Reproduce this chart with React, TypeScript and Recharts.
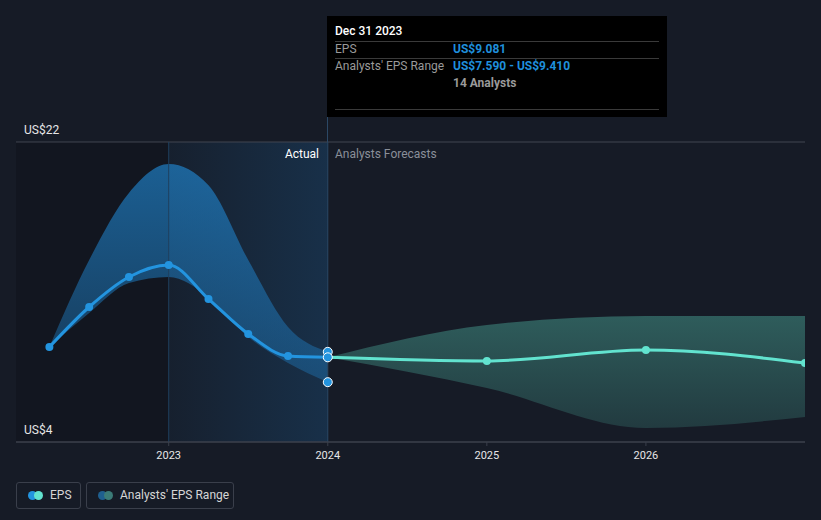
import React from "react";
import {
  ComposedChart,
  Area,
  Line,
  XAxis,
  YAxis,
  CartesianGrid,
  ReferenceArea,
  ReferenceLine,
} from "recharts";

// quarter ends as decimal years (Dec 31 2023 = 2024.0)
const periods = [2022.25, 2022.5, 2022.75, 2023.0, 2023.25, 2023.5, 2023.75, 2024.0, 2025.0, 2026.0, 2027.0];
const epsActual = [9.7, 12.1, 13.9, 14.62, 12.58, 10.48, 9.16, 9.081, null, null, null];
const epsForecast = [null, null, null, null, null, null, null, 9.081, 8.86, 9.52, 8.74];
const pastLow = [9.7, 11.74, 13.54, 13.9, 12.7, 10.3, 8.74, 7.59, null, null, null];
const pastHigh = [9.7, 14.92, 18.94, 20.68, 19.4, 14.92, 10.9, 9.41, null, null, null];
const forecastLow = [null, null, null, null, null, null, null, 9.081, 7.24, 4.84, 5.5];
const forecastHigh = [null, null, null, null, null, null, null, 9.081, 11.02, 11.56, 11.56];
const markHigh = [null, null, null, null, null, null, null, 9.41, null, null, null];
const markMid = [null, null, null, null, null, null, null, 9.081, null, null, null];
const markLow = [null, null, null, null, null, null, null, 7.59, null, null, null];

const xTicks = [2023, 2024, 2025, 2026];
const yTicks = [4, 5, 10, 15, 20, 22];

const data = periods.map((t, i) => ({
  t,
  eps: epsActual[i],
  forecast: epsForecast[i],
  pastRange: pastLow[i] == null ? null : [pastLow[i], pastHigh[i]],
  forecastRange: forecastLow[i] == null ? null : [forecastLow[i], forecastHigh[i]],
  markHigh: markHigh[i],
  markMid: markMid[i],
  markLow: markLow[i],
}));

const BLUE = "#2394df";
const TEAL = "#62e3cf";
const FONT = "Roboto, sans-serif";

const yLabel = (text: string) => (props: any) => {
  const vb = props.viewBox || {};
  return (
    <text x={(vb.x ?? 16) + 8} y={(vb.y ?? 0) - 12} dy="0.35em" fill="#e6e6e6" fontSize={12} fontFamily={FONT}>
      {text}
    </text>
  );
};

const markDot = { r: 4.5, fill: BLUE, stroke: "#ffffff", strokeWidth: 1 };

export default function App() {
  return (
    <div
      style={{
        position: "absolute",
        left: 0,
        top: 0,
        width: 821,
        height: 520,
        background: "#161b26",
        fontFamily: FONT,
        overflow: "hidden",
      }}
    >
      <ComposedChart width={821} height={520} data={data} margin={{ top: 142, right: 16, bottom: 48, left: 16 }}>
        <defs>
          <linearGradient id="actualGrad" x1="0" y1="0" x2="1" y2="0">
            <stop offset="0%" stopColor="#2196f3" stopOpacity={0.04} />
            <stop offset="100%" stopColor="#2196f3" stopOpacity={0.17} />
          </linearGradient>
          <linearGradient id="pastBand" x1="0" y1="0" x2="0" y2="1">
            <stop offset="0%" stopColor="#2190e0" stopOpacity={0.6} />
            <stop offset="100%" stopColor="#2190e0" stopOpacity={0.3} />
          </linearGradient>
          <linearGradient id="forecastBand" x1="0" y1="0" x2="0" y2="1">
            <stop offset="0%" stopColor="#408c82" stopOpacity={0.58} />
            <stop offset="100%" stopColor="#408c82" stopOpacity={0.28} />
          </linearGradient>
        </defs>
        <ReferenceArea x1={2022.04} x2={2023} fill="#0a0d13" fillOpacity={0.3} stroke="none" />
        <ReferenceArea x1={2023} x2={2024} fill="url(#actualGrad)" fillOpacity={1} stroke="none" />
        <CartesianGrid vertical={false} stroke="#252a35" strokeWidth={1} />
        <ReferenceLine y={22} stroke="#3a3f4b" strokeWidth={1} label={yLabel("US$22")} />
        <ReferenceLine y={4} stroke="#3a3f4b" strokeWidth={1} label={yLabel("US$4")} />
        <ReferenceLine x={2023} stroke="#1f3f5e" strokeWidth={1} />
        <ReferenceLine x={2024} stroke="#2b4865" strokeWidth={1} />
        <XAxis
          dataKey="t"
          type="number"
          domain={[2022.04, 2027]}
          ticks={xTicks}
          tickFormatter={(v) => String(Math.round(v))}
          allowDataOverflow
          height={30}
          axisLine={{ stroke: "#3a3f4b" }}
          tickLine={{ stroke: "#3a3f4b" }}
          tickSize={4}
          tickMargin={5}
          tick={{ fill: "#e6e6e6", fontSize: 11, fontFamily: FONT }}
        />
        <YAxis type="number" domain={[4, 22]} ticks={yTicks} width={0} axisLine={false} tickLine={false} tick={false} allowDataOverflow />
        <Area
          type="monotone"
          dataKey="pastRange"
          stroke="none"
          fill="url(#pastBand)"
          fillOpacity={1}
          isAnimationActive={false}
          activeDot={false}
        />
        <Area
          type="monotone"
          dataKey="forecastRange"
          stroke="none"
          fill="url(#forecastBand)"
          fillOpacity={1}
          isAnimationActive={false}
          activeDot={false}
        />
        <Line
          type="monotone"
          dataKey="eps"
          stroke={BLUE}
          strokeWidth={3}
          dot={{ r: 4, fill: BLUE, stroke: "none" }}
          activeDot={false}
          isAnimationActive={false}
        />
        <Line
          type="monotone"
          dataKey="forecast"
          stroke={TEAL}
          strokeWidth={3}
          dot={{ r: 4, fill: TEAL, stroke: "none" }}
          activeDot={false}
          isAnimationActive={false}
        />
        <Line dataKey="markLow" stroke="none" dot={markDot} activeDot={false} isAnimationActive={false} />
        <Line dataKey="markHigh" stroke="none" dot={markDot} activeDot={false} isAnimationActive={false} />
        <Line dataKey="markMid" stroke="none" dot={markDot} activeDot={false} isAnimationActive={false} />
      </ComposedChart>

      {/* cursor line above plot */}
      <div style={{ position: "absolute", left: 327, top: 16, width: 1, height: 126, background: "#2b4865" }} />

      {/* tooltip box */}
      <div
        style={{
          position: "absolute",
          left: 327,
          top: 16,
          width: 340,
          height: 101,
          background: "#000000",
          fontSize: 12,
          color: "#9a9a9a",
        }}
      >
        <div style={{ position: "absolute", left: 8, top: 8, color: "#ffffff", fontWeight: 500 }}>Dec 31 2023</div>
        <div style={{ position: "absolute", left: 8, right: 8, top: 25, height: 1, background: "#3a3a3a" }} />
        <div style={{ position: "absolute", left: 8, top: 26 }}>EPS</div>
        <div style={{ position: "absolute", left: 126, top: 26, color: "#1f8fdc", fontWeight: 700 }}>US$9.081</div>
        <div style={{ position: "absolute", left: 8, right: 8, top: 42, height: 1, background: "#3a3a3a" }} />
        <div style={{ position: "absolute", left: 8, top: 43 }}>Analysts' EPS Range</div>
        <div style={{ position: "absolute", left: 126, top: 43, color: "#1f8fdc", fontWeight: 700 }}>
          US$7.590 - US$9.410
        </div>
        <div style={{ position: "absolute", left: 126, top: 60, color: "#9a9a9a", fontWeight: 700 }}>14 Analysts</div>
        <div style={{ position: "absolute", left: 8, right: 8, top: 93, height: 1, background: "#3a3a3a" }} />
      </div>

      {/* region labels */}
      <div style={{ position: "absolute", right: 821 - 319, top: 147, fontSize: 12, color: "#ffffff" }}>Actual</div>
      <div style={{ position: "absolute", left: 335, top: 147, fontSize: 12, color: "#8a8f99" }}>Analysts Forecasts</div>

      {/* legend */}
      <div
        style={{
          position: "absolute",
          left: 16,
          top: 482,
          width: 65,
          height: 27,
          boxSizing: "border-box",
          border: "1px solid #3a3f4b",
          borderRadius: 3,
        }}
      >
        <span style={{ position: "absolute", left: 11, top: 8, width: 9, height: 9, borderRadius: 5, background: BLUE }} />
        <span style={{ position: "absolute", left: 17, top: 8, width: 9, height: 9, borderRadius: 5, background: TEAL }} />
        <span style={{ position: "absolute", left: 33, top: 5, fontSize: 12, color: "#d6d6d6" }}>EPS</span>
      </div>
      <div
        style={{
          position: "absolute",
          left: 86,
          top: 482,
          width: 148,
          height: 27,
          boxSizing: "border-box",
          border: "1px solid #3a3f4b",
          borderRadius: 3,
        }}
      >
        <span style={{ position: "absolute", left: 11, top: 8, width: 9, height: 9, borderRadius: 5, background: "#1f5f8f" }} />
        <span style={{ position: "absolute", left: 17, top: 8, width: 9, height: 9, borderRadius: 5, background: "#3b7b77" }} />
        <span style={{ position: "absolute", left: 33, top: 5, fontSize: 12, color: "#d6d6d6" }}>Analysts' EPS Range</span>
      </div>
    </div>
  );
}
